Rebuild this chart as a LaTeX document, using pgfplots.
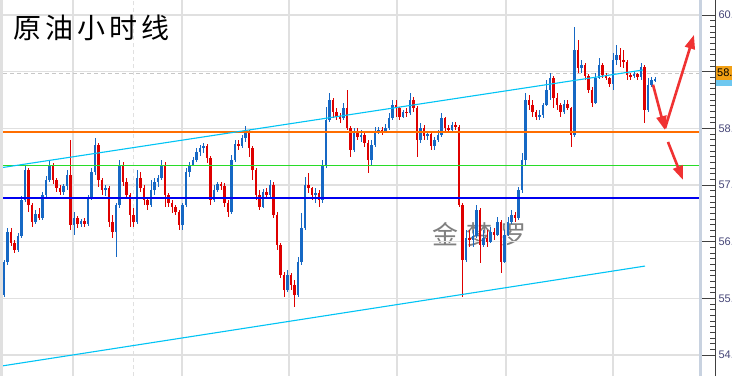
\documentclass[border=0pt]{standalone}
\usepackage{pgfplots}
\pgfplotsset{compat=1.18}
\usepackage{pgfplotstable}
\usetikzlibrary{arrows.meta}
\usepackage{fontspec}
\setmainfont{Liberation Sans}
\newfontfamily\cjk{Noto Sans CJK SC}
\definecolor{upc}{RGB}{22,104,196}
\definecolor{dnc}{RGB}{222,0,0}
\definecolor{gridc}{RGB}{224,224,224}
\definecolor{orangel}{RGB}{255,110,0}
\definecolor{greenl}{RGB}{40,220,40}
\definecolor{bluel}{RGB}{0,0,240}
\definecolor{cyanl}{RGB}{0,196,245}
\definecolor{arrowc}{RGB}{240,50,50}
\definecolor{tagc}{RGB}{242,160,20}
\definecolor{tagb}{RGB}{110,200,240}
\definecolor{labc}{RGB}{70,70,120}
\definecolor{framec}{RGB}{200,210,224}

\pgfplotstableread{
x o h l c
0 55.06 55.68 55.02 55.64
1 55.64 56.24 55.59 56.17
2 56.17 56.24 55.92 55.98
3 55.98 56.03 55.80 55.85
4 55.85 56.15 55.82 56.10
5 56.10 56.81 56.06 56.74
6 56.74 57.35 56.70 57.27
7 57.27 57.30 56.52 56.65
8 56.65 56.68 56.26 56.35
9 56.35 56.56 56.31 56.49
10 56.49 56.59 56.38 56.42
11 56.42 56.88 56.38 56.82
12 56.82 57.16 56.79 57.09
13 57.09 57.44 57.05 57.35
14 57.35 57.39 57.02 57.09
15 57.09 57.12 56.88 56.95
16 56.95 57.00 56.82 56.88
17 56.88 57.02 56.82 56.98
18 56.98 57.27 56.91 57.18
19 57.18 57.79 56.21 56.29
20 56.29 56.52 56.12 56.42
21 56.42 56.45 56.24 56.31
22 56.31 56.40 56.26 56.37
23 56.37 56.42 56.26 56.31
24 56.31 56.82 56.28 56.77
25 56.77 57.30 56.74 57.23
26 57.23 57.83 57.18 57.71
27 57.71 57.74 56.96 57.09
28 57.09 57.12 56.82 56.91
29 56.91 57.00 56.81 56.95
30 56.95 56.98 56.26 56.35
31 56.35 56.47 56.06 56.17
32 56.17 56.68 55.73 56.65
33 56.65 57.44 56.59 57.35
34 57.35 57.41 56.98 57.05
35 57.05 57.12 56.75 56.82
36 56.82 56.86 56.26 56.47
37 56.47 56.59 56.26 56.35
38 56.35 57.27 56.31 57.12
39 57.12 57.23 56.88 56.95
40 56.95 57.00 56.65 56.74
41 56.74 56.77 56.56 56.65
42 56.65 57.09 56.61 56.91
43 56.91 57.12 56.82 57.05
44 57.05 57.18 56.96 57.12
45 57.12 57.44 57.09 57.35
46 57.35 57.41 56.61 56.82
47 56.82 56.86 56.61 56.68
48 56.68 56.74 56.51 56.61
49 56.61 56.65 56.47 56.52
50 56.52 56.56 56.21 56.29
51 56.29 56.68 56.21 56.65
52 56.65 57.30 56.61 57.23
53 57.23 57.41 57.14 57.35
54 57.35 57.49 57.34 57.44
55 57.44 57.65 57.41 57.58
56 57.58 57.71 57.51 57.65
57 57.65 57.74 57.57 57.69
58 57.69 57.72 57.39 57.48
59 57.48 57.51 56.65 56.74
60 56.74 57.00 56.70 56.91
61 56.91 57.05 56.88 57.02
62 57.02 57.05 56.91 56.98
63 56.98 57.03 56.61 56.68
64 56.68 56.74 56.44 56.52
65 56.52 57.53 56.49 57.44
66 57.44 57.79 57.41 57.72
67 57.72 57.79 57.62 57.69
68 57.69 57.88 57.65 57.83
69 57.83 58.04 57.76 57.94
70 57.94 57.97 57.49 57.65
71 57.65 57.69 57.09 57.27
72 57.27 57.30 56.74 56.82
73 56.82 56.91 56.56 56.61
74 56.61 56.93 56.59 56.88
75 56.88 56.95 56.79 56.82
76 56.82 57.09 56.77 57.00
77 57.00 57.05 56.42 56.47
78 56.47 56.52 55.85 55.94
79 55.94 55.98 55.36 55.41
80 55.41 55.47 55.02 55.15
81 55.15 55.50 55.11 55.41
82 55.41 55.45 55.15 55.23
83 55.23 55.32 54.85 55.06
84 55.06 55.73 55.02 55.64
85 55.64 56.51 55.59 56.24
86 56.24 57.14 56.21 57.00
87 57.00 57.21 56.86 56.95
88 56.95 56.96 56.74 56.82
89 56.82 56.95 56.68 56.86
90 56.86 56.91 56.61 56.74
91 56.74 57.44 56.68 57.35
92 57.35 58.38 57.30 58.15
93 58.15 58.62 58.11 58.50
94 58.50 58.53 58.18 58.29
95 58.29 58.36 58.15 58.20
96 58.20 58.27 58.09 58.18
97 58.18 58.45 58.15 58.36
98 58.36 58.68 57.97 58.01
99 58.01 58.04 57.49 57.62
100 57.62 58.01 57.58 57.92
101 57.92 58.01 57.79 57.85
102 57.85 57.97 57.76 57.88
103 57.88 57.94 57.67 57.74
104 57.74 57.79 57.21 57.44
105 57.44 57.79 57.35 57.71
106 57.71 58.02 57.67 57.94
107 57.94 58.02 57.90 57.97
108 57.97 58.02 57.88 57.95
109 57.95 58.08 57.92 58.01
110 58.01 58.27 57.97 58.18
111 58.18 58.50 58.15 58.41
112 58.41 58.50 58.20 58.36
113 58.36 58.38 58.15 58.20
114 58.20 58.32 58.18 58.29
115 58.29 58.36 58.20 58.27
116 58.27 58.62 58.24 58.50
117 58.50 58.55 58.29 58.36
118 58.36 58.39 57.49 57.79
119 57.79 58.09 57.74 58.01
120 58.01 58.06 57.79 57.86
121 57.86 57.94 57.79 57.90
122 57.90 57.92 57.62 57.69
123 57.69 57.85 57.62 57.79
124 57.79 57.97 57.76 57.88
125 57.88 58.27 57.85 58.18
126 58.18 58.20 57.94 58.01
127 58.01 58.06 57.92 57.97
128 57.97 58.11 57.94 58.06
129 58.06 58.11 57.97 58.02
130 58.02 58.06 56.61 56.65
131 56.65 56.68 55.02 55.68
132 55.68 56.21 55.64 56.06
133 56.06 56.21 55.91 56.03
134 56.03 56.21 55.91 56.10
135 56.10 56.65 56.06 56.56
136 56.56 56.59 55.62 55.94
137 55.94 56.21 55.91 56.06
138 56.06 56.21 55.91 55.99
139 55.99 56.26 55.98 56.17
140 56.17 56.24 56.03 56.12
141 56.12 56.44 56.10 56.35
142 56.35 56.38 55.45 55.64
143 55.64 56.21 55.62 56.12
144 56.12 56.44 56.10 56.35
145 56.35 56.56 56.31 56.47
146 56.47 56.52 56.35 56.42
147 56.42 56.96 56.38 56.91
148 56.91 57.57 56.86 57.44
149 57.44 58.62 57.35 58.50
150 58.50 58.59 58.32 58.41
151 58.41 58.50 58.20 58.29
152 58.29 58.32 58.15 58.20
153 58.20 58.32 58.15 58.24
154 58.24 58.45 58.18 58.41
155 58.41 58.85 58.39 58.68
156 58.68 58.98 58.50 58.89
157 58.89 58.92 58.36 58.53
158 58.53 58.62 58.32 58.41
159 58.41 58.45 58.20 58.29
160 58.29 58.50 58.25 58.43
161 58.43 58.50 58.32 58.36
162 58.36 58.38 57.67 57.88
163 57.88 59.79 57.85 59.38
164 59.38 59.56 58.98 59.06
165 59.06 59.21 58.98 59.12
166 59.12 59.15 58.85 58.92
167 58.92 58.96 58.62 58.68
168 58.68 58.73 58.38 58.45
169 58.45 58.98 58.43 58.89
170 58.89 59.24 58.87 59.12
171 59.12 59.15 58.89 58.94
172 58.94 58.98 58.85 58.89
173 58.89 58.91 58.73 58.78
174 58.78 59.33 58.68 59.21
175 59.21 59.47 59.12 59.29
176 59.29 59.42 59.08 59.21
177 59.21 59.38 59.06 59.17
178 59.17 59.21 58.85 58.94
179 58.94 58.98 58.85 58.92
180 58.92 59.00 58.89 58.96
181 58.96 58.98 58.85 58.91
182 58.91 59.15 58.85 59.08
183 59.08 59.12 58.09 58.32
184 58.32 58.89 58.29 58.77
185 58.77 58.91 58.73 58.85
186 58.85 58.91 58.82 58.87
}\bars

\pgfplotsset{
  up only/.style={restrict expr to domain={\thisrow{c}-\thisrow{o}}{-0.001:100}},
  down only/.style={restrict expr to domain={\thisrow{c}-\thisrow{o}}{-100:-0.002}},
  candle/.style 2 args={only marks, mark=*, mark size=0pt,
    mark options={draw=none, fill=none},
    error bars/y dir=both, error bars/y explicit, error bars/error mark=none,
    error bars/error bar style={line width=#2, draw=#1}},
}

\begin{document}
\begin{tikzpicture}
\useasboundingbox (-3pt,0pt) rectangle (729pt,376pt);
\fill[white] (-3pt,0pt) rectangle (729pt,376pt);
% watermark (behind the bars)
\node[anchor=west, inner sep=0pt, text=black!50] at (429pt,141pt)
  {\fontsize{26}{26}\selectfont\cjk 金\hspace{8pt}梦\hspace{8pt}罗};

\begin{axis}[
  at={(0pt,0pt)}, anchor=south west,
  scale only axis, width=697pt, height=376pt,
  xmin=-0.2857, xmax=198.857, ymin=53.63, ymax=60.265,
  axis line style={draw=none},
  xtick={19.71,50.86,81.43,112.29,143.43,174},
  ytick={54,55,56,57,58,59,60},
  xticklabels={}, yticklabels={},
  major tick length=0pt,
  grid=major, major grid style={draw=gridc, line width=1.3pt},
  extra x ticks={37.14}, extra x tick labels={},
  extra x tick style={major grid style={draw=gridc, line width=1pt, dash pattern=on 4pt off 3pt}},
  clip=true,
]
% current price line
\addplot[draw=black!22, line width=1.2pt, dash pattern=on 4pt off 3pt] coordinates {(-0.2857,58.97) (198.857,58.97)};
% candles
\addplot[up only, candle={upc}{0.9pt}] table[x=x, y expr={(\thisrow{h}+\thisrow{l})/2}, y error expr={(\thisrow{h}-\thisrow{l})/2}] {\bars};
\addplot[down only, candle={dnc}{0.9pt}] table[x=x, y expr={(\thisrow{h}+\thisrow{l})/2}, y error expr={(\thisrow{h}-\thisrow{l})/2}] {\bars};
\addplot[up only, candle={upc}{2.7pt}] table[x=x, y expr={(\thisrow{o}+\thisrow{c})/2}, y error expr={abs(\thisrow{c}-\thisrow{o})/2}] {\bars};
\addplot[down only, candle={dnc}{2.7pt}] table[x=x, y expr={(\thisrow{o}+\thisrow{c})/2}, y error expr={abs(\thisrow{c}-\thisrow{o})/2}] {\bars};
% horizontal levels
\addplot[orangel, line width=1.2pt] coordinates {(-0.2857,57.935) (198.857,57.935)};
\addplot[greenl, line width=1.2pt] coordinates {(-0.2857,57.35) (198.857,57.35)};
\addplot[bluel, line width=1.2pt] coordinates {(-0.2857,56.77) (198.857,56.77)};
% trend channel
\addplot[cyanl, line width=1.1pt] coordinates {(-0.2857,57.31) (182.57,59.03)};
\addplot[cyanl, line width=1.1pt] coordinates {(-0.2857,53.81) (183.14,55.57)};
% arrows
\addplot[arrowc, line width=2.6pt, -{Triangle[length=14pt,width=10pt]}] coordinates {(185.43,58.77) (188.86,57.97)};
\addplot[arrowc, line width=2.6pt, -{Triangle[length=14pt,width=10pt]}] coordinates {(188.86,58.00) (197.14,59.65)};
\addplot[arrowc, line width=2.6pt, -{Triangle[length=14pt,width=10pt]}] coordinates {(189.71,57.76) (194.00,57.09)};
\end{axis}

\begin{axis}[
  at={(0pt,0pt)}, anchor=south west,
  scale only axis, width=712pt, height=376pt,
  xmin=0, xmax=1, ymin=53.63, ymax=60.265,
  axis x line=none, axis y line=right,
  axis line style={-, draw=black!75, line width=0.8pt},
  ytick={54,55,56,57,58,59,60}, minor y tick num=9,
  tick align=inside, major tick length=13pt, minor tick length=5pt,
  every tick/.style={draw=black!75, line width=0.8pt},
  /pgf/number format/assume math mode=true,
  yticklabel={\pgfmathprintnumber[fixed,fixed zerofill,precision=2]{\tick}},
  yticklabel style={font=\fontsize{11}{11}\selectfont, text=labc},
]
\end{axis}

% frames
\fill[black!12] (-3pt,0pt) rectangle (0pt,376pt);
\fill[framec] (696pt,0pt) rectangle (699pt,376pt);
% price tag
\fill[tagb] (713pt,290pt) rectangle (735pt,296pt);
\fill[tagc] (713pt,296pt) rectangle (735pt,310pt);
\node[anchor=west, inner sep=0pt, font=\fontsize{11}{11}\selectfont] at (714pt,303pt) {58.97};
% title
\node[anchor=west, inner sep=0pt] at (10pt,348pt)
  {\fontsize{28}{28}\selectfont\cjk 原\hspace{4pt}油\hspace{4pt}小\hspace{4pt}时\hspace{4pt}线};
\end{tikzpicture}
\end{document}
